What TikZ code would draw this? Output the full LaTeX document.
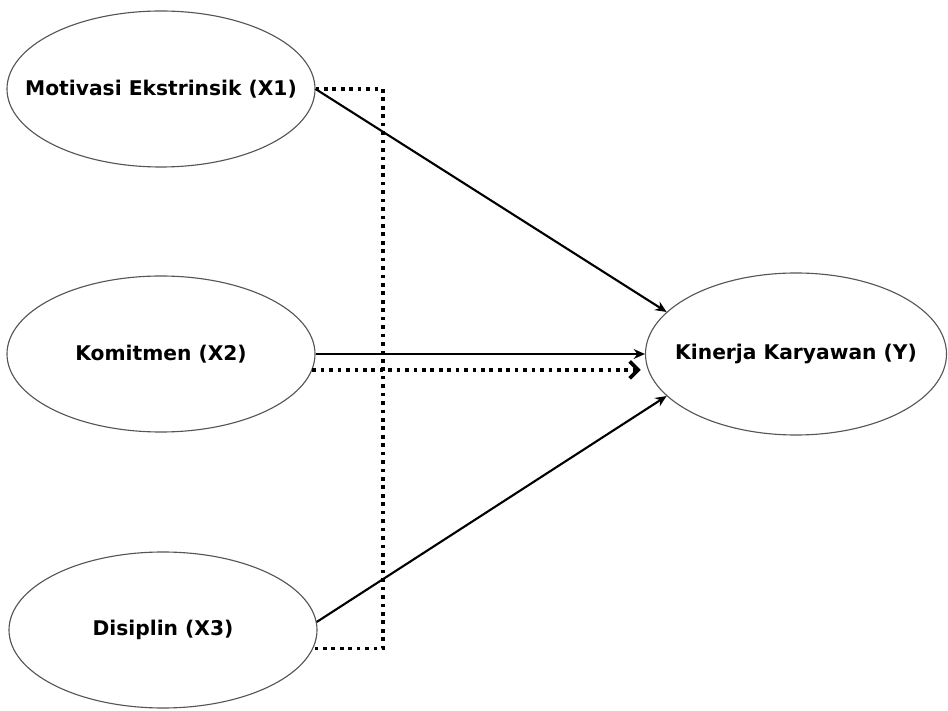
\documentclass[tikz,border=0pt]{standalone}
\usepackage{fontspec}
\setmainfont{DejaVu Sans}
\usetikzlibrary{shapes.geometric, arrows.meta}
\definecolor{edge_gray}{RGB}{85, 85, 85}

\begin{document}
\begin{tikzpicture}[
  latent/.style={ellipse, draw=edge_gray, line width=0.8pt, inner xsep=-1cm,
    inner ysep=0pt, minimum width=7.7cm, minimum height=3.9cm,
    font=\bfseries\fontsize{14.4}{16}\selectfont},
  path_line/.style={line width=1.5pt, -{Stealth[length=8pt, width=7pt]}},
  dot_line/.style={line width=2.6pt, dash pattern=on 2.6pt off 3.4pt}]
\useasboundingbox (0, 0) rectangle (23.7, 17.75);

\node[latent] (x1) at(4.025, 15.525) {Motivasi Ekstrinsik (X1)};
\node[latent] (x2) at(4.025, 8.9) {Komitmen (X2)};
\node[latent] (x3) at(4.075, 2.0) {Disiplin (X3)};
\node[latent, minimum width=7.525cm, minimum height=4.05cm] (y) at(19.9, 8.9)
  {Kinerja Karyawan (Y)};

\draw[path_line] (x1.east) -- (y.162);
\draw[path_line] (x2.east) -- (y.west);
\draw[path_line] (x3.3) -- (y.198);

\coordinate (bend) at (9.575, 0);
\draw[dot_line] (x1.east) -- (x1.east -| bend) -- (x3.-7 -| bend) -- (x3.-7);
\draw[dot_line, -{Straight Barb[length=6pt, width=12pt]}]
  (x2.-6) -- ([xshift=-3pt]x2.-6 -| y.west);
\end{tikzpicture}
\end{document}
